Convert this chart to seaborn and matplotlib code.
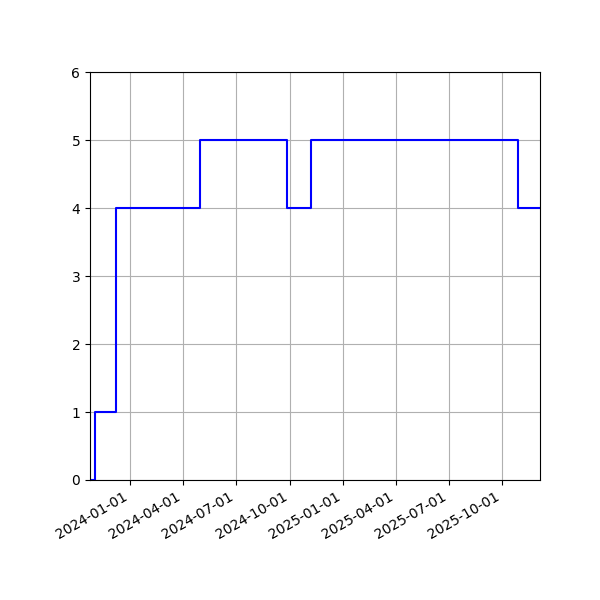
import seaborn as sns
import matplotlib.pyplot as plt
import matplotlib.dates as mdates
import pandas as pd

# change points of the step series (value holds until the next date)
dates = ["2023-10-24", "2023-11-01", "2023-12-07", "2024-04-30",
         "2024-09-26", "2024-11-07", "2025-10-28", "2025-12-05"]
values = [0, 1, 4, 5, 4, 5, 4, 4]

df = pd.DataFrame({"date": pd.to_datetime(dates), "value": values})

fig, ax = plt.subplots(figsize=(6, 6), dpi=100)
sns.lineplot(data=df, x="date", y="value", color="blue", drawstyle="steps-post", ax=ax)

ax.set_xlim(df["date"].min(), df["date"].max())
ax.set_ylim(0, 6)
ax.xaxis.set_major_locator(mdates.MonthLocator(bymonth=[1, 4, 7, 10]))
ax.xaxis.set_major_formatter(mdates.DateFormatter("%Y-%m-%d"))
ax.set_xlabel("")
ax.set_ylabel("")
ax.grid(True)
fig.autofmt_xdate()

plt.subplots_adjust(left=0.15, right=0.9, bottom=0.2, top=0.88)
plt.savefig("out.png")
plt.close()
